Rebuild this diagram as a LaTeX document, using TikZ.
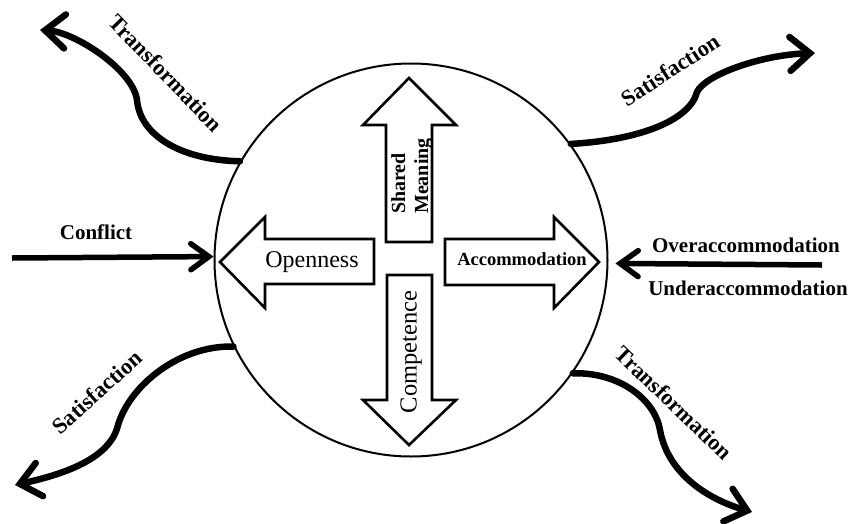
\documentclass[tikz,border=0pt]{standalone}
\usepackage{fontspec}
\setmainfont{Liberation Serif}
\usetikzlibrary{arrows.meta}
\begin{document}
\begin{tikzpicture}[x=1pt,y=-1pt,
  flow/.style={line width=6.5pt, line cap=round, -{Straight Barb[length=20pt,width=34pt,line cap=round]}},
  straight/.style={line width=5.5pt, -{Straight Barb[length=18pt,width=26pt,line cap=round]}},
  lbl/.style={font=\fontsize{21}{24}\selectfont\bfseries, inner sep=0pt},
  rlbl/.style={font=\fontsize{22.5}{24}\selectfont\bfseries, inner sep=0pt},
  blockarrow/.style={draw, line width=2.6pt, fill=white, line join=miter},
]
\useasboundingbox (0,0) rectangle (852,523);

% main circle
\node[circle, draw, line width=2pt, minimum size=393pt, inner sep=0pt] (C) at (411,260) {};

% block arrows
\draw[blockarrow] (386,242) -- (386,125) -- (363,125) -- (409,78) -- (456,125) -- (432,125) -- (432,242) -- cycle;
\draw[blockarrow] (387,275) -- (387,400) -- (363,400) -- (409,445) -- (456,400) -- (432,400) -- (432,275) -- cycle;
\draw[blockarrow] (374,239) -- (265,239) -- (265,217) -- (220,262) -- (265,308) -- (265,284) -- (374,284) -- cycle;
\draw[blockarrow] (445,239) -- (554,239) -- (554,217) -- (599,262) -- (554,308) -- (554,285) -- (445,285) -- cycle;

% texts inside
\node[inner sep=0pt, font=\fontsize{24}{26}\selectfont] (open) at (312,262) {Openness};
\node[inner sep=0pt, font=\fontsize{18.5}{20}\selectfont\bfseries] (acc) at (522,259) {Accommodation};
\node[inner sep=0pt, rotate=90, font=\fontsize{24.5}{26}\selectfont] (comp) at (411,352) {Competence};
\node[inner sep=0pt, rotate=90, anchor=west, align=left, font=\fontsize{20}{23}\selectfont\bfseries] (shared) at (412,214) {Shared\\Meaning};

% curved flows
\coordinate (tl) at (40,30);
\coordinate (tr) at (815,53);
\coordinate (bl) at (15,485);
\coordinate (br) at (752,512);
\draw[flow] (C.150) .. controls (180,160) and (140,135) .. (137,100) .. controls (133,70) and (75,32) .. (tl);
\draw[flow] (C.36) .. controls (640,140) and (690,120) .. (697,92) .. controls (705,75) and (760,55) .. (tr);
\draw[flow] (C.206) .. controls (180,345) and (130,385) .. (118,425) .. controls (110,460) and (60,475) .. (bl);
\draw[flow] (C.325) .. controls (620,372) and (655,400) .. (660,430) .. controls (668,475) and (710,500) .. (br);

% straight arrows
\coordinate (cf) at (12,258);
\coordinate (oa) at (822,265);
\draw[straight] (cf) -- (C.179.4);
\draw[straight] (oa) -- ([xshift=7pt]C.-1.5);

% outside labels
\node[lbl] (conflict) at (96,232) {Conflict};
\node[lbl] (over) at (746,245) {Overaccommodation};
\node[lbl] (under) at (748,288) {Underaccommodation};
\node[rlbl, rotate=-46] (trtl) at (166,73) {Transformation};
\node[rlbl, rotate=33] (satr) at (670,70) {Satisfaction};
\node[rlbl, rotate=42] (satl) at (97,392) {Satisfaction};
\node[rlbl, rotate=-44] (trbr) at (674,403) {Transformation};
\end{tikzpicture}
\end{document}
